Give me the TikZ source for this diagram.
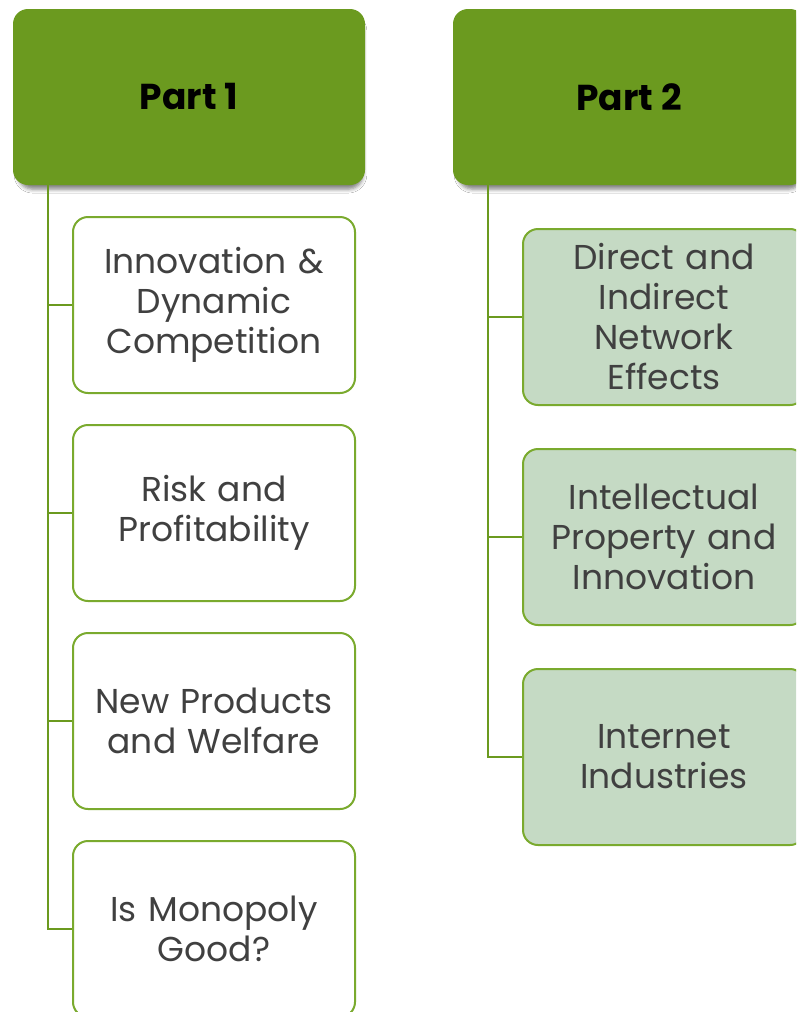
\documentclass[tikz,border=0pt]{standalone}
\usepackage{fontspec}
\setmainfont{Poppins}
\usetikzlibrary{shadows.blur}
\definecolor{headgreen}{RGB}{107,154,31}
\definecolor{edgegreen}{RGB}{122,170,46}
\definecolor{palegreen}{RGB}{197,218,196}
\definecolor{textgray}{RGB}{64,64,64}
\tikzset{
  head/.style={draw=none, fill=headgreen, rounded corners=15pt,
    minimum width=352pt, minimum height=176pt, inner sep=0pt,
    font=\fontsize{36}{40}\selectfont\bfseries, text=black,
    blur shadow={shadow xshift=1.5pt, shadow yshift=-6pt, shadow scale=0.98,
      shadow blur radius=4pt, shadow opacity=50}},
  leaf/.style={draw=edgegreen, line width=2pt, fill=white, rounded corners=15pt,
    minimum width=282pt, minimum height=176pt, inner sep=0pt, align=center,
    text width=276pt, font=\fontsize{34.5}{40}\selectfont, text=textgray},
  leafB/.style={leaf, fill=palegreen},
  branch/.style={draw=headgreen, line width=2pt}
}
\begin{document}
\begin{tikzpicture}[x=1pt,y=-1pt]
\clip (0,0) rectangle (796,1012);
\fill[white] (0,0) rectangle (796,1012);
% trunk start points under the headers
\coordinate (t1) at (48,185);
\coordinate (t2) at (488,185);
% headers
\node[head] (p1) at (189,97) {Part 1};
\node[head] (p2) at (629,97) {Part 2};
% left column
\node[leaf] (a1) at (214,305) {Innovation \&\\Dynamic\\Competition};
\node[leaf] (a2) at (214,513) {Risk and\\Profitability};
\node[leaf] (a3) at (214,721) {New Products\\and Welfare};
\node[leaf] (a4) at (214,929) {Is Monopoly\\Good?};
% right column
\node[leafB] (b1) at (664,317) {Direct and\\Indirect\\Network\\Effects};
\node[leafB] (b2) at (664,537) {Intellectual\\Property and\\Innovation};
\node[leafB] (b3) at (664,757) {Internet\\Industries};
% connectors
\draw[branch] (t1) -- (t1 |- a4.west) -- (a4.west);
\draw[branch] (t1 |- a1.west) -- (a1.west);
\draw[branch] (t1 |- a2.west) -- (a2.west);
\draw[branch] (t1 |- a3.west) -- (a3.west);
\draw[branch] (t2) -- (t2 |- b3.west) -- (b3.west);
\draw[branch] (t2 |- b1.west) -- (b1.west);
\draw[branch] (t2 |- b2.west) -- (b2.west);
\end{tikzpicture}
\end{document}
